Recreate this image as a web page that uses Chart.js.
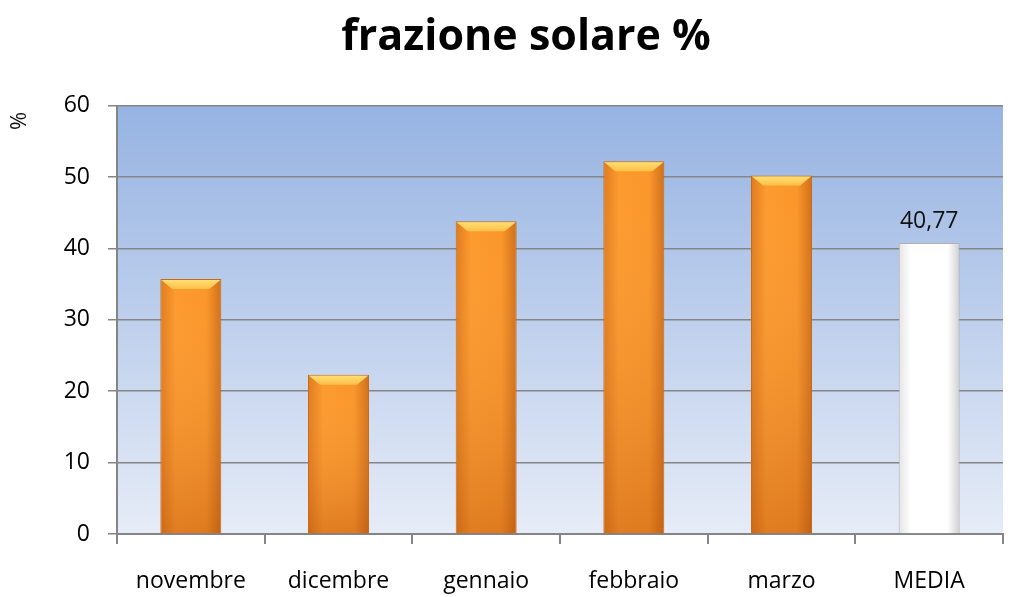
<!DOCTYPE html>
<html>
<head>
<meta charset="utf-8">
<script src="https://cdn.jsdelivr.net/npm/chart.js@4/dist/chart.umd.min.js"></script>
<style>
  html,body{margin:0;padding:0;background:#fff;}
  #wrap{width:1020px;height:597px;position:relative;}
</style>
</head>
<body>
<div id="wrap"><canvas id="c"></canvas></div>
<script>
const categories = ['novembre','dicembre','gennaio','febbraio','marzo','MEDIA'];
const values     = [35.7, 22.3, 43.8, 52.2, 50.2, 40.77];
const yTicks     = [0,10,20,30,40,50,60];
const mediaLabel = '40,77';
const yTitle     = '%';

const FONT = '"Open Sans", "Liberation Sans", sans-serif';
const BAR_PCT = 0.413;

// sfondo area del grafico (sfumatura blu)
const plotBg = {
  id:'plotBg',
  beforeDraw(chart){
    const {ctx, chartArea:a} = chart;
    const g = ctx.createLinearGradient(0,a.top,0,a.bottom);
    g.addColorStop(0,'#96b3e2');
    g.addColorStop(1,'#e6ecf7');
    ctx.save();
    ctx.fillStyle = g;
    ctx.fillRect(a.left,a.top,a.right-a.left,a.bottom-a.top);
    ctx.restore();
  }
};

// etichetta sopra la barra MEDIA + titolo asse "%"
const extraText = {
  id:'extraText',
  afterDatasetsDraw(chart){
    const meta = chart.getDatasetMeta(0);
    const bar = meta.data[categories.length-1];
    const ctx = chart.ctx;
    ctx.save();
    ctx.font = `23px ${FONT}`;
    ctx.fillStyle = '#111';
    ctx.textAlign = 'center';
    ctx.textBaseline = 'bottom';
    ctx.fillText(mediaLabel, bar.x, bar.y - 10);
    ctx.translate(20, 121);
    ctx.rotate(-Math.PI/2);
    ctx.textBaseline = 'middle';
    ctx.font = `22px ${FONT}`;
    ctx.fillText(yTitle, 0, 0);
    ctx.restore();
  }
};

function barColor(c){
  const chart = c.chart, xs = chart.scales.x;
  if(!xs || !chart.chartArea) return '#f7941d';
  const ctx = chart.ctx;
  const cx = xs.getPixelForValue(c.dataIndex);
  const w = (xs.width/categories.length)*BAR_PCT;
  const x0 = cx - w/2, x1 = cx + w/2;
  if(!isFinite(x0)) return '#f7941d';
  const g = ctx.createLinearGradient(x0,0,x1,0);
  if(c.dataIndex === categories.length-1){
    g.addColorStop(0,'#e4e4e4');
    g.addColorStop(0.2,'#ffffff');
    g.addColorStop(0.8,'#ffffff');
    g.addColorStop(1,'#d0d0d0');
  } else {
    g.addColorStop(0,'#e07a1c');
    g.addColorStop(0.25,'#fc9a2e');
    g.addColorStop(0.75,'#fb962a');
    g.addColorStop(1,'#cf6e18');
  }
  return g;
}

// ombreggiatura verticale + bordino chiaro in alto
const barShade = {
  id:'barShade',
  afterDatasetsDraw(chart){
    const ctx = chart.ctx;
    const meta = chart.getDatasetMeta(0);
    meta.data.forEach((b,i)=>{
      const x0 = b.x - b.width/2, w = b.width;
      ctx.save();
      if(i < categories.length-1){
        const g = ctx.createLinearGradient(0,b.y,0,b.base);
        g.addColorStop(0,'rgba(255,200,120,0.0)');
        g.addColorStop(1,'rgba(170,70,10,0.35)');
        ctx.fillStyle = g;
        ctx.fillRect(x0+1,b.y,w-2,b.base-b.y);
        const gb = ctx.createLinearGradient(0,b.y,0,b.y+10);
        gb.addColorStop(0,'#ffe27a');
        gb.addColorStop(1,'#ffc045');
        ctx.fillStyle = gb;
        ctx.beginPath();
        ctx.moveTo(x0+1,b.y+1);
        ctx.lineTo(x0+w-1,b.y+1);
        ctx.lineTo(x0+w-12,b.y+10);
        ctx.lineTo(x0+12,b.y+10);
        ctx.closePath();
        ctx.fill();
      }
      ctx.restore();
    });
  }
};

new Chart(document.getElementById('c'),{
  type:'bar',
  data:{
    labels:categories,
    datasets:[{
      data:values,
      backgroundColor:barColor,
      borderColor:(c)=> c.dataIndex===categories.length-1 ? '#b0b0b0' : '#c86a18',
      borderWidth:1,
      categoryPercentage:BAR_PCT,
      barPercentage:1
    }]
  },
  options:{
    responsive:true,
    maintainAspectRatio:false,
    animation:false,
    layout:{padding:{left:49,right:17,top:0,bottom:0}},
    plugins:{
      legend:{display:false},
      tooltip:{enabled:false},
      title:{
        display:true,
        text:'frazione solare %',
        color:'#000',
        font:{family:FONT,size:43,weight:'bold'},
        padding:{top:12,bottom:42}
      }
    },
    scales:{
      x:{
        offset:true,
        afterFit:(ax)=>{ ax.height = 63; },
        grid:{offset:true,drawOnChartArea:false,color:'#858585',tickLength:10,lineWidth:2},
        border:{color:'#858585',width:2},
        ticks:{color:'#000',font:{family:FONT,size:23},padding:24}
      },
      y:{
        min:0,max:60,
        afterFit:(ax)=>{ ax.width = 68; },
        afterBuildTicks:(ax)=>{ ax.ticks = yTicks.map(v=>({value:v})); },
        grid:{color:'#858585',tickLength:9,lineWidth:1.5},
        border:{color:'#858585',width:2},
        ticks:{color:'#000',font:{family:FONT,size:23},padding:18}
      }
    }
  },
  plugins:[plotBg,barShade,extraText]
});
</script>
</body>
</html>
